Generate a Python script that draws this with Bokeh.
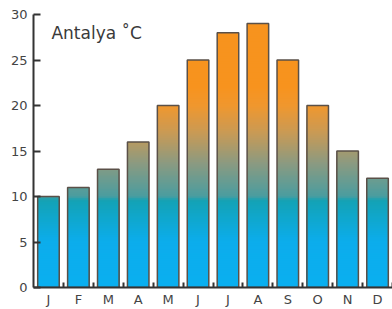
from bokeh.plotting import figure
from bokeh.models import Range1d, FixedTicker, ColumnDataSource, Label
from bokeh.embed import file_html
from bokeh.resources import INLINE

months = ["J", "F", "M", "A", "M", "J", "J", "A", "S", "O", "N", "D"]
temps = [10, 11, 13, 16, 20, 25, 28, 29, 25, 20, 15, 12]
y_ticks = [0, 5, 10, 15, 20, 25, 30]

# gradient colour stops (value -> colour), styling only
stops = [(0, "#0aaff0"), (5, "#0cadec"), (8, "#10a6c8"), (9.6, "#14a2b4"),
         (10.0, "#4a9da0"), (13.7, "#8c9a80"), (17, "#c99a55"),
         (20, "#f0972e"), (22, "#f7931e"), (30, "#f7931e")]


def hex2rgb(h):
    return tuple(int(h[i:i + 2], 16) for i in (1, 3, 5))


def colour_at(v):
    for (a, ca), (b, cb) in zip(stops[:-1], stops[1:]):
        if a <= v <= b:
            t = (v - a) / (b - a) if b > a else 0
            ra, rb = hex2rgb(ca), hex2rgb(cb)
            c = [round(ra[k] + (rb[k] - ra[k]) * t) for k in range(3)]
            return "#%02x%02x%02x" % tuple(c)
    return stops[-1][1]


xs = list(range(1, len(months) + 1))
bw = 0.72
dy = 0.2

# build gradient slices: each slice from 0 up to its top, drawn tallest first
sl = []
for x, t in zip(xs, temps):
    n = int(round(t / dy))
    for i in range(1, n + 1):
        top = min(i * dy, t)
        sl.append((top, x, colour_at(top - dy / 2)))
sl.sort(key=lambda r: -r[0])
src = ColumnDataSource(dict(
    left=[r[1] - bw / 2 for r in sl],
    right=[r[1] + bw / 2 for r in sl],
    top=[r[0] for r in sl],
    bottom=[0] * len(sl),
    color=[r[2] for r in sl],
))

p = figure(width=392, height=309, output_backend="svg", toolbar_location=None,
           x_range=Range1d(0.5, 12.5), y_range=Range1d(0, 30),
           min_border_left=33, min_border_right=0, min_border_top=14,
           min_border_bottom=22)
p.background_fill_color = "white"
p.outline_line_color = None
p.grid.grid_line_color = None

p.quad(left="left", right="right", top="top", bottom="bottom", source=src,
       fill_color="color", line_color=None)
p.quad(left=[x - bw / 2 for x in xs], right=[x + bw / 2 for x in xs],
       top=temps, bottom=[0] * len(xs), fill_color=None,
       line_color="#5a5048", line_width=1.5)

# x axis
p.xaxis.ticker = FixedTicker(ticks=xs, minor_ticks=[x + 0.5 for x in xs])
p.xaxis.major_label_overrides = {x: m for x, m in zip(xs, months)}
p.xaxis.major_tick_in = 0
p.xaxis.major_tick_out = 0
p.xaxis.minor_tick_in = 5
p.xaxis.minor_tick_out = 0
p.xaxis.minor_tick_line_width = 2
p.xaxis.minor_tick_line_color = "#333333"
p.xaxis.axis_line_width = 2
p.xaxis.axis_line_color = "#333333"
p.xaxis.major_label_standoff = 4

# y axis
p.yaxis.ticker = FixedTicker(ticks=y_ticks, minor_ticks=[])
p.yaxis.major_tick_in = 7
p.yaxis.major_tick_out = 0
p.yaxis.major_tick_line_width = 2
p.yaxis.major_tick_line_color = "#333333"
p.yaxis.axis_line_width = 2
p.yaxis.axis_line_color = "#333333"
p.yaxis.major_label_standoff = 6

for ax in (p.xaxis, p.yaxis):
    ax.major_label_text_font = "DejaVu Sans"
    ax.major_label_text_font_size = "13px"
    ax.major_label_text_color = "#444444"

p.add_layout(Label(x=1.1, y=28.0, text="Antalya \u02daC", text_font="DejaVu Sans",
                   text_font_size="17px", text_color="#3a3a3a",
                   text_baseline="middle"))

open("out.html", "w").write(file_html(p, INLINE))
